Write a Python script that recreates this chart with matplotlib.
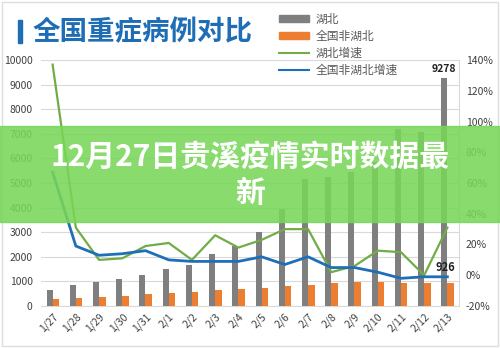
import matplotlib
matplotlib.use("Agg")
import matplotlib.pyplot as plt
from matplotlib.patches import Rectangle, Patch
from matplotlib.lines import Line2D
import numpy as np

plt.rcParams['font.family'] = ['Noto Sans CJK SC', 'DejaVu Sans']

dates = ['1/27', '1/28', '1/29', '1/30', '1/31', '2/1', '2/2', '2/3', '2/4',
         '2/5', '2/6', '2/7', '2/8', '2/9', '2/10', '2/11', '2/12', '2/13']
hubei = [667, 867, 960, 1080, 1253, 1520, 1680, 2107, 2440,
         3013, 3950, 5160, 5240, 5450, 5850, 7200, 7060, 9278]
non_hubei = [267, 333, 360, 413, 480, 547, 560, 640, 693,
             747, 800, 867, 933, 960, 960, 933, 920, 926]
hubei_growth = [137, 31, 10, 11, 19, 21, 10, 26, 18,
                23, 30, 30, 2, 6, 16, 15, 0, 31]
non_hubei_growth = [67, 19, 13, 14, 16, 10, 9, 9, 9,
                    12, 7, 12, 5, 5, 2, -2, -1, -1]

GRAY = '#7f7f7f'
ORANGE = '#ed7d31'
GREEN = '#70ad47'
BLUE = '#1f6fb8'

fig = plt.figure(figsize=(5, 3.48), dpi=100)
W, H = 500, 348
ax = fig.add_axes([41 / W, 1 - 306 / H, 418 / W, 246 / H])
x = np.arange(len(dates))

ax.bar(x - 0.13, hubei, width=0.26, color=GRAY, zorder=3)
ax.bar(x + 0.14, non_hubei, width=0.28, color=ORANGE, zorder=3)
ax.set_ylim(0, 10000)
ax.set_xlim(-0.5, len(dates) - 0.5)
ax.set_yticks(range(0, 10001, 1000))
ax.grid(axis='y', color='#d9d9d9', linewidth=0.8, zorder=0)
ax.tick_params(axis='y', length=0, labelsize=7.5, labelcolor='#404040', pad=6)
ax.set_xticks(x)
ax.set_xticklabels(dates, rotation=45, ha='right', rotation_mode='anchor',
                   fontsize=7.5, color='#404040')
ax.tick_params(axis='x', length=0, pad=4)
for s in ['top', 'left', 'right']:
    ax.spines[s].set_visible(False)
ax.spines['bottom'].set_color('#d9d9d9')

ax2 = ax.twinx()
ax2.plot(x, hubei_growth, color=GREEN, linewidth=1.6, zorder=4)
ax2.plot(x, non_hubei_growth, color=BLUE, linewidth=2.0, zorder=4)
ax2.set_ylim(-20, 140)
ax2.set_yticks(range(-20, 141, 20))
ax2.set_yticklabels([f'{v}%' for v in range(-20, 141, 20)])
ax2.tick_params(axis='y', length=0, labelsize=7.5, labelcolor='#404040', pad=5)
for s in ['top', 'left', 'bottom']:
    ax2.spines[s].set_visible(False)
ax2.spines['right'].set_color('#d9d9d9')

# data labels
ax.text(x[-1] - 0.13, hubei[-1] + 150, str(hubei[-1]), ha='center', va='bottom',
        fontsize=7.5, fontweight='bold', color='#222222')
ax2.text(x[-1] - 0.1, non_hubei_growth[-1] + 2, str(non_hubei[-1]), ha='center',
         va='bottom', fontsize=8, fontweight='bold', color='#222222', zorder=6)

# title
fig.patches.append(Rectangle((18 / W, 1 - 43 / H), 4 / W, 23 / H,
                             transform=fig.transFigure, color='#1f6eb5'))
fig.text(33 / W, 1 - 32 / H, '全国重症病例对比', fontsize=19.8, fontweight='bold',
         color='#1f6eb5', va='center', ha='left')

handles = [Patch(color=GRAY), Patch(color=ORANGE),
           Line2D([], [], color=GREEN, linewidth=1.5),
           Line2D([], [], color=BLUE, linewidth=1.5)]
labels = ['湖北', '全国非湖北', '湖北增速', '全国非湖北增速']
fig.legend(handles, labels, loc='upper left', bbox_to_anchor=(268 / W, 1 - 2 / H),
           frameon=False, fontsize=8.5, labelcolor='#595959', handlelength=2.6,
           handleheight=0.5, labelspacing=0.35, handletextpad=0.5)

# banner overlay
fig.patches.append(Rectangle((0, 1 - 222 / H), 1, 96 / H, transform=fig.transFigure,
                             color='#79d659', alpha=0.88, zorder=10))
fig.text(0.5, 1 - 157 / H, '12月27日贵溪疫情实时数据最', fontsize=21.5,
         fontweight='bold', color='white', ha='center', va='center', zorder=11)
fig.text(0.5, 1 - 193 / H, '新', fontsize=21.5, fontweight='bold', color='white',
         ha='center', va='center', zorder=11)

# outer frame
fig.patches.append(Rectangle((2 / W, 2 / H), 496 / W, 344 / H, transform=fig.transFigure,
                             fill=False, edgecolor='#dddddd', linewidth=1))

fig.savefig('out.png', dpi=100)
